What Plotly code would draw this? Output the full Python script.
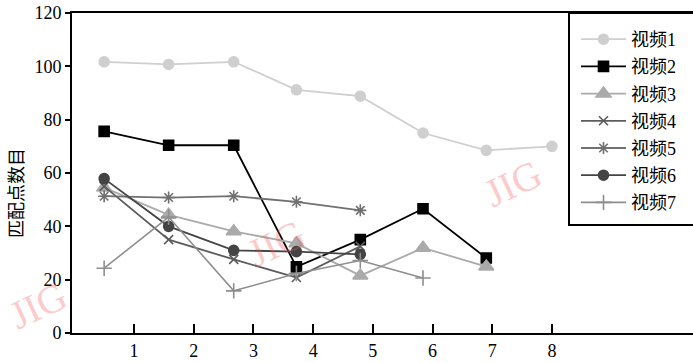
import plotly.graph_objects as go

# Frame positions where the matches were counted
frame_pos = [0.5, 1.58, 2.67, 3.72, 4.79, 5.84, 6.9, 8.0]
x_ticks = [1, 2, 3, 4, 5, 6, 7, 8]
y_ticks = [0, 20, 40, 60, 80, 100, 120]

# Number of matched points per video
video1 = [101.7, 100.7, 101.7, 91.2, 88.8, 75.0, 68.5, 70.0]
video2 = [75.6, 70.4, 70.4, 24.8, 35.0, 46.6, 28.1]
video3 = [54.5, 44.3, 38.1, 33.6, 21.5, 31.9, 24.9]
video4 = [55.0, 35.0, 27.6, 20.8, 32.5]
video5 = [51.3, 50.8, 51.3, 49.2, 46.0]
video6 = [57.9, 40.0, 31.0, 30.5, 29.5]
video7 = [24.3, 43.5, 15.8, 22.3, 27.2, 20.6]

names = ["视频1", "视频2", "视频3", "视频4", "视频5", "视频6", "视频7"]
series = [video1, video2, video3, video4, video5, video6, video7]

styles = [
    dict(color="#cfcfcf", symbol="circle", size=10, lw=1.8),
    dict(color="#000000", symbol="square", size=10, lw=1.8),
    dict(color="#aaaaaa", symbol="triangle-up", size=13, lw=1.8),
    dict(color="#5c5c5c", symbol="x-thin-open", size=9, lw=1.8),
    dict(color="#707070", symbol="asterisk-open", size=10, lw=1.8),
    dict(color="#444444", symbol="circle", size=10, lw=1.8),
    dict(color="#8e8e8e", symbol="cross-thin-open", size=11, lw=1.6),
]

FONT = "Liberation Serif, Noto Sans CJK SC, serif"

fig = go.Figure()
for i, (name, ys, st) in enumerate(zip(names, series, styles)):
    fig.add_trace(go.Scatter(
        x=frame_pos[:len(ys)], y=ys, name=name, mode="lines+markers",
        legendgroup=f"g{i}",
        line=dict(color=st["color"], width=st["lw"]),
        marker=dict(symbol=st["symbol"], size=st["size"], color=st["color"],
                    line=dict(color=st["color"], width=1.6)),
    ))

L, T, B = 72, 13, 30
W, H = 693, 363
pw, ph = W - L, H - T - B


def px(xp):
    return (xp - L) / pw


def py(yp):
    return (H - B - yp) / ph


# watermark stamps
marks = [(38, 305), (276, 243), (513, 183)]
annotations = [
    dict(text="JIG", x=px(mx), y=py(my), xref="paper", yref="paper",
         xanchor="center", yanchor="middle",
         showarrow=False, textangle=-25,
         font=dict(family="Liberation Serif", size=40, color="rgba(245,90,90,0.32)"))
    for mx, my in marks
]
annotations.append(dict(
    text="匹配点数目", x=px(17), y=py(193), xref="paper", yref="paper",
    xanchor="center", yanchor="middle",
    showarrow=False, textangle=-90,
    font=dict(family=FONT, size=18, color="#000"),
))

fig.update_layout(
    width=W, height=H,
    margin=dict(l=L, r=0, t=T, b=B),
    paper_bgcolor="white", plot_bgcolor="white",
    font=dict(family=FONT, size=18, color="#000"),
    showlegend=True,
    legend=dict(x=px(576), y=py(21), xanchor="left", yanchor="top",
                bgcolor="rgba(0,0,0,0)", borderwidth=0,
                font=dict(family=FONT, size=18, color="#000"),
                tracegroupgap=0.8, itemwidth=45),
    annotations=annotations,
    shapes=[dict(type="rect", xref="paper", yref="paper",
                 x0=px(569), x1=1.05, y0=py(225), y1=1,
                 line=dict(color="#000", width=2))],
    xaxis=dict(range=[(L - 134) / 59.71 + 1, (W - 134) / 59.71 + 1],
               tickvals=x_ticks, ticks="inside", ticklen=9, tickwidth=2,
               tickcolor="#000", showline=True, linecolor="#000", linewidth=2,
               mirror=True, showgrid=False, zeroline=False,
               tickfont=dict(family=FONT, size=18)),
    yaxis=dict(range=[0, 120], tickvals=y_ticks, ticks="outside", ticklen=5,
               tickwidth=2, tickcolor="#000", showline=True, linecolor="#000",
               linewidth=2, showgrid=False, zeroline=False,
               tickfont=dict(family=FONT, size=18)),
)

fig.write_html("out.html")
